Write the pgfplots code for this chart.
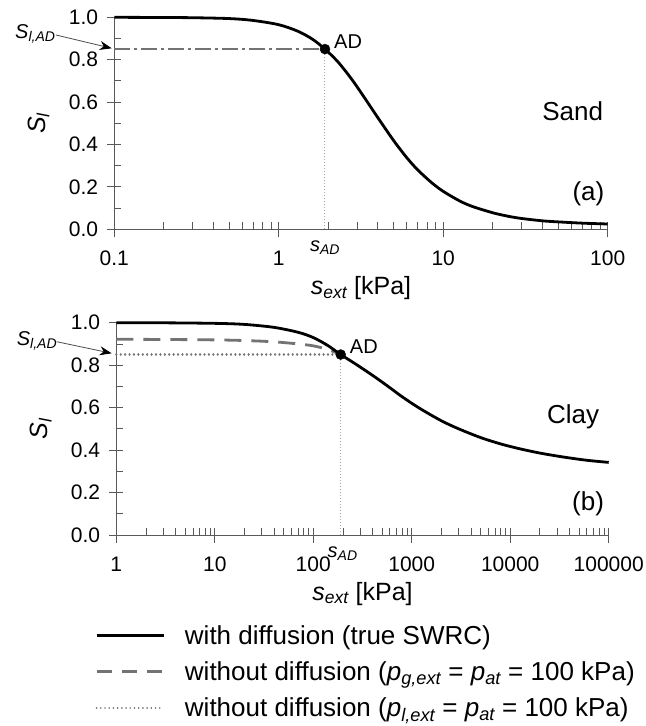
\documentclass[border=0pt]{standalone}
\usepackage{fontspec}
\setmainfont{Liberation Sans}
\usepackage{pgfplots}
\pgfplotsset{compat=1.18}
\usetikzlibrary{arrows.meta}

\newcommand\ftick{\fontsize{21bp}{25bp}\selectfont}
\newcommand\flab{\fontsize{25bp}{30bp}\selectfont}
\newcommand\fbig{\fontsize{26bp}{31bp}\selectfont}
\newcommand\fleg{\fontsize{26bp}{31bp}\selectfont}
\newcommand\fann{\fontsize{20bp}{24bp}\selectfont}
\newcommand\sub[1]{\textsubscript{\itshape #1}}

\definecolor{axgray}{gray}{0.35}
\definecolor{lgray}{gray}{0.45}

\pgfplotsset{
  swrc/.style={
    scale only axis,
    ymin=0, ymax=1,
    axis lines=left,
    axis line style={-, axgray, line width=1bp},
    tick style={axgray, line width=0.8bp},
    tick align=inside,
    major tick length=7bp, minor tick length=7bp,
    ytick={0,0.2,0.4,0.6,0.8,1},
    yticklabels={0.0,0.2,0.4,0.6,0.8,1.0},
    minor ytick={0.1,0.3,0.5,0.7,0.9},
    extra y ticks={0,0.2,0.4,0.6,0.8,1},
    extra y tick labels={},
    extra y tick style={tick align=outside},
    extra x tick labels={},
    extra x tick style={tick align=outside, major tick length=8bp},
    tick label style={font=\ftick, inner sep=0pt},
    xticklabel style={anchor=base, yshift=-36bp},
    yticklabel style={anchor=east, xshift=-16bp},
    xlabel={\textit{s}\sub{ext} [kPa]},
    ylabel={\textit{S}\sub{l}},
    label style={font=\flab, inner sep=0pt},
    xlabel style={at={(axis description cs:0.5,0)}, anchor=base, yshift=-65bp},
    ylabel style={at={(axis description cs:-0.14,0.5)}, anchor=base},
    clip=false,
  },
  dotline/.style={lgray, line width=2.4bp, line cap=round, dash pattern=on 0.01bp off 4.4bp},
}

\begin{document}
\begin{tikzpicture}[x=1bp, y=1bp]
% (a) sand
\begin{semilogxaxis}[swrc, name=top, at={(0bp,0bp)}, anchor=south west,
  width=493.4bp, height=212bp,
  xmin=0.1, xmax=100,
  xtick={0.1,1,10,100}, xticklabels={0.1,1,10,100},
  minor xtick={0.2,0.3,0.4,0.5,0.6,0.7,0.8,0.9,2,3,4,5,6,7,8,9,20,30,40,50,60,70,80,90},
  extra x ticks={0.1,1,10,100},
]
\addplot[black, line width=2.8bp, smooth] coordinates {
  (0.1,1.000) (0.2,0.999) (0.3,0.998) (0.5,0.994) (0.7,0.985) (1,0.965)
  (1.3,0.935) (1.6,0.897) (1.91,0.850) (2.3,0.788) (2.8,0.704) (3.4,0.609)
  (4,0.527) (5,0.418) (6,0.338) (7,0.280) (8.5,0.220) (10,0.179)
  (12.5,0.135) (15,0.108) (20,0.078) (25,0.061) (30,0.051) (40,0.040)
  (50,0.035) (70,0.029) (100,0.025)
};
\addplot[lgray, line width=2.2bp, dash pattern=on 16bp off 4bp on 3bp off 4bp]
  coordinates {(0.1,0.85) (1.91,0.85)};
\addplot[gray!70, line width=1bp, dash pattern=on 1.5bp off 1.5bp]
  coordinates {(1.91,0) (1.91,0.85)};
\addplot[only marks, mark=*, mark size=5bp, black] coordinates {(1.91,0.85)};
\node[font=\fann, anchor=base west, inner sep=0pt, xshift=9bp, yshift=1bp]
  at (axis cs:1.91,0.85) {AD};
\node[font=\fann, anchor=base, inner sep=0pt, yshift=-22bp]
  at (axis cs:1.91,0) {\textit{s}\sub{AD}};
\node[font=\fbig] at (rel axis cs:0.929,0.555) {Sand};
\node[font=\fbig] at (rel axis cs:0.961,0.1665) {(a)};
\end{semilogxaxis}

% (b) clay
\begin{semilogxaxis}[swrc, name=bot, at={(2bp,-305.7bp)}, anchor=south west,
  width=492.4bp, height=212.3bp,
  xmin=1, xmax=100000,
  xtick={1,10,100,1000,10000,100000},
  xticklabels={1,10,100,1000,10000,100000},
  minor xtick={2,3,4,5,6,7,8,9,20,30,40,50,60,70,80,90,200,300,400,500,600,700,800,900,
    2000,3000,4000,5000,6000,7000,8000,9000,20000,30000,40000,50000,60000,70000,80000,90000},
  extra x ticks={1,10,100,1000,10000,100000},
  legend style={draw=none, fill=none, at={(axis description cs:-0.0433,-0.415)},
    anchor=north west, font=\fleg, row sep=12bp, inner sep=0pt,
    /tikz/every odd column/.append style={column sep=18bp}},
  legend cell align=left,
  legend image code/.code={\draw[#1] (0bp,0bp) -- (67bp,0bp);},
]
\addlegendimage{black, line width=2.8bp}
\addlegendentry{with diffusion (true SWRC)}
\addlegendimage{lgray, line width=2.8bp, dash pattern=on 15bp off 10bp}
\addlegendentry{without diffusion (\textit{p}\sub{g,ext} = \textit{p}\sub{at} = 100 kPa)}
\addlegendimage{lgray, line width=1.8bp, line cap=round, dash pattern=on 0.01bp off 4.2bp}
\addlegendentry{without diffusion (\textit{p}\sub{l,ext} = \textit{p}\sub{at} = 100 kPa)}

\addplot[lgray, line width=2.8bp, dash pattern=on 17bp off 10bp, smooth, forget plot] coordinates {
  (1,0.922) (3,0.921) (10,0.919) (20,0.916) (40,0.910) (70,0.900)
  (100,0.891) (140,0.874) (190,0.850)
};
\addplot[dotline, forget plot] coordinates {(1,0.85) (190,0.85)};
\addplot[black, line width=2.8bp, smooth, forget plot] coordinates {
  (1,1.000) (3,0.9995) (10,0.997) (20,0.992) (40,0.978) (70,0.955)
  (100,0.930) (140,0.893) (190,0.850) (270,0.805) (400,0.752) (556,0.705)
  (800,0.651) (1200,0.597) (2000,0.538) (3000,0.500) (5000,0.459)
  (8000,0.429) (12000,0.408) (20000,0.386) (35000,0.367) (60000,0.352)
  (100000,0.342)
};
\addplot[gray!70, line width=1bp, dash pattern=on 1.5bp off 1.5bp, forget plot]
  coordinates {(190,0) (190,0.85)};
\addplot[only marks, mark=*, mark size=5bp, black, forget plot] coordinates {(190,0.85)};
\node[font=\fann, anchor=base west, inner sep=0pt, xshift=9bp, yshift=1bp]
  at (axis cs:190,0.85) {AD};
\node[font=\fann, anchor=base, inner sep=0pt, yshift=-22bp, xshift=2bp]
  at (axis cs:190,0) {\textit{s}\sub{AD}};
\node[font=\fbig] at (rel axis cs:0.9275,0.557) {Clay};
\node[font=\fbig] at (rel axis cs:0.958,0.146) {(b)};
\end{semilogxaxis}

% S_l,AD pointers
\draw[black!70, line width=0.8bp, -{Stealth[length=12bp, width=9bp, black]}]
  (-58.3,194.3) -- (-2.6,181);
\node[font=\fann, anchor=base west, inner sep=0pt] at (-99.3,191) {\textit{S}\sub{l,AD}};
\draw[black!70, line width=0.8bp, -{Stealth[length=12bp, width=9bp, black]}]
  (-57.6,-112.4) -- (-2.6,-124);
\node[font=\fann, anchor=base west, inner sep=0pt] at (-97.6,-116.2) {\textit{S}\sub{l,AD}};

\pgfresetboundingbox
\path[use as bounding box] (-114.3,-496.7) rectangle (531.7,229.3);
\end{tikzpicture}
\end{document}
